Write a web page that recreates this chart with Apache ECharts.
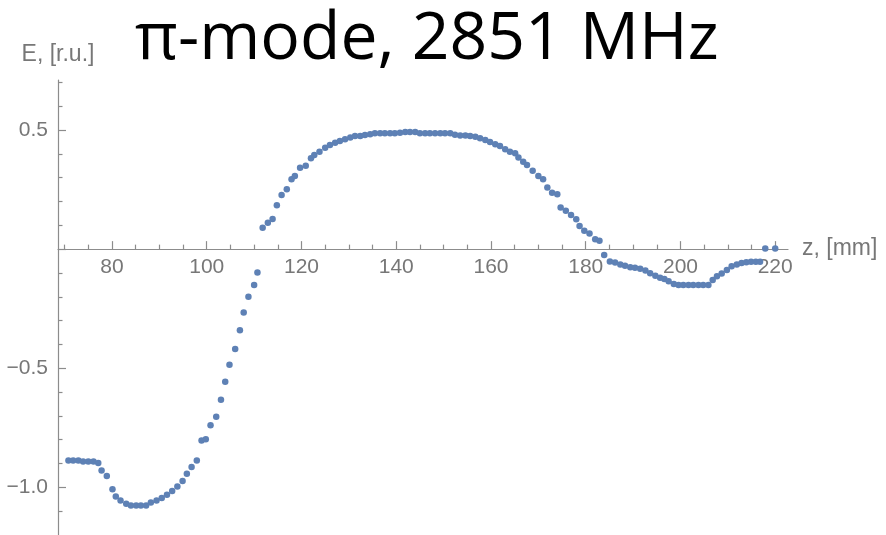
<!DOCTYPE html>
<html>
<head>
<meta charset="utf-8">
<script src="https://cdn.jsdelivr.net/npm/echarts@6/dist/echarts.min.js"></script>
<style>
  html, body { margin: 0; padding: 0; background: #fff; }
  #chart { width: 886px; height: 535px; }
</style>
</head>
<body>
<div id="chart"></div>
<script>
// Field profile along the axis: position z [mm] and relative amplitude E [r.u.]
const zValues = [
  70.8, 71.8, 72.9, 73.9, 75.0, 76.1, 77.1, 77.8, 78.9, 80.1,
  80.8, 81.8, 83.0, 84.0, 85.1, 86.1, 87.2, 88.2, 89.4, 90.5,
  91.6, 92.7, 93.8, 94.9, 95.8, 96.8, 97.9, 98.9, 99.8, 100.8,
  102.0, 103.0, 103.9, 104.8, 106.0, 107.0, 107.8, 108.8, 110.0, 110.7,
  111.8, 112.9, 113.9, 114.8, 115.8, 116.9, 117.9, 118.6, 119.7, 120.9,
  122.0, 122.7, 123.8, 125.0, 126.0, 127.1, 128.1, 129.2, 130.3, 131.3,
  132.4, 133.4, 134.5, 135.5, 136.6, 137.6, 138.7, 139.7, 140.8, 141.9,
  142.9, 144.0, 145.0, 146.1, 147.1, 148.2, 149.3, 150.3, 151.4, 152.4,
  153.5, 154.6, 155.6, 156.7, 157.7, 158.8, 159.8, 160.9, 161.9, 163.0,
  164.0, 165.1, 165.8, 166.8, 167.6, 168.8, 170.0, 171.0, 171.9, 172.9,
  174.0, 174.7, 175.8, 176.9, 178.0, 178.7, 179.7, 180.8, 182.0, 182.9,
  183.9, 185.1, 186.2, 187.3, 188.3, 189.4, 190.4, 191.5, 192.6, 193.6,
  194.7, 195.7, 196.6, 197.5, 198.6, 199.6, 200.6, 201.7, 202.7, 203.8,
  204.8, 205.9, 206.8, 207.7, 208.7, 209.8, 210.8, 211.9, 212.9, 213.9,
  214.9, 215.9, 216.8, 217.9, 220.0
];
const eValues = [
  -0.887, -0.887, -0.887, -0.891, -0.891, -0.891, -0.898, -0.929, -0.952, -1.008,
  -1.038, -1.055, -1.069, -1.076, -1.076, -1.076, -1.076, -1.064, -1.055, -1.045,
  -1.031, -1.015, -0.996, -0.973, -0.943, -0.915, -0.887, -0.803, -0.798, -0.739,
  -0.704, -0.632, -0.557, -0.485, -0.419, -0.340, -0.266, -0.200, -0.151, -0.098,
  0.090, 0.111, 0.127, 0.184, 0.227, 0.251, 0.293, 0.307, 0.342, 0.350,
  0.381, 0.395, 0.409, 0.426, 0.437, 0.447, 0.454, 0.461, 0.469, 0.475,
  0.475, 0.479, 0.482, 0.486, 0.486, 0.486, 0.486, 0.486, 0.489, 0.492,
  0.492, 0.492, 0.486, 0.486, 0.486, 0.486, 0.486, 0.486, 0.486, 0.480,
  0.477, 0.477, 0.475, 0.472, 0.465, 0.458, 0.450, 0.440, 0.433, 0.419,
  0.409, 0.402, 0.385, 0.367, 0.353, 0.329, 0.307, 0.293, 0.259, 0.237,
  0.230, 0.175, 0.161, 0.143, 0.125, 0.097, 0.077, 0.066, 0.041, 0.035,
  -0.025, -0.052, -0.056, -0.065, -0.070, -0.076, -0.078, -0.082, -0.090, -0.101,
  -0.112, -0.120, -0.125, -0.135, -0.146, -0.151, -0.151, -0.151, -0.151, -0.151,
  -0.151, -0.151, -0.130, -0.114, -0.102, -0.088, -0.072, -0.065, -0.058, -0.055,
  -0.053, -0.053, -0.053, 0.003, 0.003
];

// Tick positions
const xMajorTicks = [80, 100, 120, 140, 160, 180, 200, 220];
const xMinorTicks = [70, 75, 85, 90, 95, 105, 110, 115, 125, 130, 135, 145, 150, 155,
                     165, 170, 175, 185, 190, 195, 205, 210, 215];
const yMajorTicks = [-1.0, -0.5, 0, 0.5];
const yLabelTicks = [-1.0, -0.5, 0.5];
const yMinorTicks = [-1.1, -0.9, -0.8, -0.7, -0.6, -0.4, -0.3, -0.2, -0.1,
                     0.1, 0.2, 0.3, 0.4, 0.6, 0.7];

const titleText = 'π-mode, 2851 MHz';
const xName = 'z, [mm]';
const yName = 'E, [r.u.]';

const xMin = 68.6, xMax = 222.7;
const yMin = -1.2, yMax = 0.71;

const axisGray = '#8c8c8c';
const labelGray = '#777777';
const dotColor = '#5e81b5';
const labelFont = 'Liberation Sans, Arial, sans-serif';

const points = zValues.map((z, i) => [z, eValues[i]]);

function fmtY(v) {
  const s = Math.abs(v).toFixed(1);
  return v < 0 ? '\u2212' + s : s;
}

const tickLine = { color: axisGray, width: 1.2 };

function xAxes(offset) {
  return [
    {
      type: 'value',
      min: xMin,
      max: xMax,
      position: 'bottom',
      offset: offset,
      name: xName,
      nameLocation: 'end',
      nameGap: 14,
      nameTextStyle: { color: labelGray, fontSize: 23, fontFamily: labelFont, verticalAlign: 'middle' },
      axisLine: { show: true, onZero: false, lineStyle: tickLine },
      axisTick: { show: true, inside: true, length: 8, customValues: xMajorTicks, lineStyle: tickLine },
      axisLabel: { show: true, customValues: xMajorTicks, margin: 8, color: labelGray, fontSize: 21, fontFamily: labelFont },
      splitLine: { show: false }
    },
    {
      type: 'value',
      min: xMin,
      max: xMax,
      position: 'bottom',
      offset: offset,
      axisLine: { show: false, onZero: false },
      axisTick: { show: true, inside: true, length: 4.5, customValues: xMinorTicks, lineStyle: tickLine },
      axisLabel: { show: false },
      splitLine: { show: false }
    }
  ];
}

const chart = echarts.init(document.getElementById('chart'), null, { renderer: 'canvas' });

chart.setOption({
  animation: false,
  backgroundColor: '#ffffff',
  title: {
    text: titleText,
    left: 130,
    top: 2,
    textStyle: {
      fontFamily: 'Open Sans, sans-serif',
      fontSize: 66,
      fontWeight: 'normal',
      color: '#000000'
    }
  },
  grid: { left: 58, right: 98, top: 80, bottom: 0, containLabel: false, outerBoundsMode: 'none' },
  xAxis: xAxes(0),
  yAxis: [
    {
      type: 'value',
      min: yMin,
      max: yMax,
      position: 'left',
      name: yName,
      nameLocation: 'end',
      nameGap: 14,
      nameTextStyle: { color: labelGray, fontSize: 23, fontFamily: labelFont, align: 'center' },
      axisLine: { show: true, onZero: false, lineStyle: tickLine },
      axisTick: { show: true, inside: true, length: 8, customValues: yMajorTicks, lineStyle: tickLine },
      axisLabel: { show: true, customValues: yLabelTicks, margin: 10, color: labelGray, fontSize: 21, fontFamily: labelFont, formatter: fmtY },
      splitLine: { show: false }
    },
    {
      type: 'value',
      min: yMin,
      max: yMax,
      position: 'left',
      offset: 0,
      axisLine: { show: false, onZero: false },
      axisTick: { show: true, inside: true, length: 4.5, customValues: yMinorTicks, lineStyle: tickLine },
      axisLabel: { show: false },
      splitLine: { show: false }
    }
  ],
  series: [
    {
      type: 'scatter',
      xAxisIndex: 0,
      yAxisIndex: 0,
      data: points,
      symbol: 'circle',
      symbolSize: 6.5,
      itemStyle: { color: dotColor, opacity: 1 },
      z: 5
    }
  ]
});

// Move the horizontal axis up so it crosses the vertical one at E = 0
const zeroPx = chart.convertToPixel({ yAxisIndex: 0 }, 0);
const bottomPx = chart.convertToPixel({ yAxisIndex: 0 }, yMin);
chart.setOption({ xAxis: xAxes(zeroPx - bottomPx) });
</script>
</body>
</html>
